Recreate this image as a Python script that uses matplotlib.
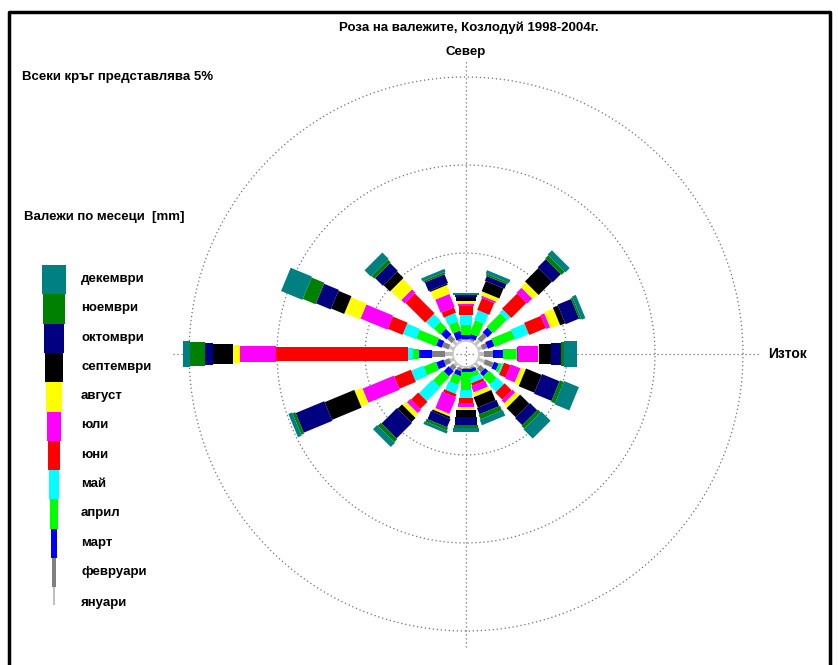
import matplotlib
matplotlib.use('Agg')
import matplotlib.pyplot as plt
from matplotlib.patches import Polygon, Circle, Rectangle
import numpy as np

plt.rcParams['font.family'] = ['Liberation Sans', 'DejaVu Sans']

# 16 compass sectors, clockwise from north
directions = ['N', 'NNE', 'NE', 'ENE', 'E', 'ESE', 'SE', 'SSE',
              'S', 'SSW', 'SW', 'WSW', 'W', 'WNW', 'NW', 'NNW']
angles = np.arange(16) * 22.5

# share of each month per sector [%]
jan = [0.03, 0.06, 0.34, 0.23, 0.28, 0.40, 0.28, 0.06, 0.03, 0.11, 0.17, 0.23, 0.45, 0.28, 0.28, 0.06]
feb = [0.06, 0.11, 0.46, 0.30, 0.52, 0.51, 0.32, 0.08, 0.06, 0.17, 0.28, 0.34, 0.74, 0.40, 0.35, 0.11]
mar = [0.25, 0.26, 0.39, 0.41, 0.56, 0.28, 0.25, 0.20, 0.19, 0.27, 0.40, 0.45, 0.74, 0.34, 0.45, 0.46]
apr = [0.57, 0.82, 1.08, 1.22, 0.74, 0.17, 0.60, 0.26, 1.03, 0.51, 0.80, 0.74, 0.34, 1.20, 0.51, 0.53]
may = [0.57, 0.57, 0.26, 0.83, 0.06, 0.09, 0.54, 0.31, 0.45, 0.52, 1.08, 0.74, 0.29, 0.79, 0.57, 0.49]
jun = [0.51, 0.74, 1.22, 1.03, 0.06, 0.40, 0.57, 0.17, 0.29, 0.18, 0.57, 1.02, 7.50, 0.91, 1.59, 0.32]
jul = [0.11, 0.11, 0.40, 0.24, 1.13, 0.59, 0.22, 0.37, 0.22, 1.01, 0.28, 1.93, 2.04, 1.65, 0.28, 0.81]
aug = [0.17, 0.23, 0.40, 0.57, 0.06, 0.29, 0.29, 0.25, 0.17, 0.13, 0.28, 0.46, 0.40, 0.96, 0.80, 0.52]
sep = [0.23, 0.62, 1.08, 0.31, 0.68, 0.96, 0.74, 0.63, 0.40, 0.11, 0.34, 1.82, 1.14, 0.80, 0.51, 0.08]
octo = [0.09, 0.29, 0.65, 0.83, 0.57, 1.08, 0.57, 0.39, 0.46, 0.51, 1.25, 1.76, 0.45, 0.91, 0.63, 0.54]
nov = [0.05, 0.11, 0.25, 0.11, 0.17, 0.23, 0.22, 0.29, 0.17, 0.17, 0.23, 0.17, 0.85, 0.79, 0.22, 0.11]
dec = [0.09, 0.20, 0.35, 0.23, 0.74, 0.91, 0.74, 0.34, 0.22, 0.17, 0.34, 0.23, 0.40, 1.31, 0.51, 0.17]

months = ['януари', 'февруари', 'март', 'април', 'май', 'юни',
          'юли', 'август', 'септември', 'октомври', 'ноември', 'декември']
colors = ['#c0c0c0', '#808080', '#0000ff', '#00ff00', '#00ffff', '#ff0000',
          '#ff00ff', '#ffff00', '#000000', '#000080', '#008000', '#008080']

data = np.array([jan, feb, mar, apr, may, jun, jul, aug, sep, octo, nov, dec])

W, H = 838, 665
cx, cy = 466, 354          # rose centre in pixels
px = 17.6                  # pixels per percent
calm = 13 / px             # radius of the calm circle
ring_step = 5
rings = [1, 2, 3]
axis_len = 293 / px


def to_data(x, y):
    return (x - cx) / px, (cy - y) / px


fig = plt.figure(figsize=(W / 100, H / 100), dpi=100)
ax = fig.add_axes([0, 0, 1, 1])
ax.set_xlim(-cx / px, (W - cx) / px)
ax.set_ylim(-(H - cy) / px, cy / px)
ax.axis('off')

# rings and cross
dot = dict(color='#707070', lw=0.9, ls=(0, (1, 2.2)))
t = np.linspace(0, 2 * np.pi, 400)
for k in rings:
    r = calm + k * ring_step
    ax.plot(r * np.cos(t), r * np.sin(t), zorder=1, **dot)
ax.plot([0, 0], [-axis_len, axis_len], zorder=1, **dot)
ax.plot([-axis_len, axis_len], [0, 0], zorder=1, **dot)

# stacked rose bars, each month a rectangle wider than the previous
for d, ang in enumerate(np.radians(angles)):
    u = np.array([np.sin(ang), np.cos(ang)])
    p = np.array([np.cos(ang), -np.sin(ang)])
    r0 = calm
    for m in range(12):
        r1 = r0 + data[m, d]
        hw = (m + 1.6) / px
        pts = [r0 * u - hw * p, r1 * u - hw * p, r1 * u + hw * p, r0 * u + hw * p]
        ax.add_patch(Polygon(pts, closed=True, facecolor=colors[m],
                             edgecolor='none', zorder=2 + m * 0.01))
        r0 = r1

# calm circle
ax.add_patch(Circle((0, 0), calm, facecolor='white', edgecolor='#c8c8c8',
                    lw=1.2, zorder=5))
ax.plot([0, 0], [-calm * 0.8, calm * 0.8], zorder=6, **dot)
ax.plot([-calm * 0.8, calm * 0.8], [0, 0], zorder=6, **dot)

fs = 9.5

# legend column
leg_x = 54
row_h = 29.3
y_top = 265
for m in range(11, -1, -1):
    i = 11 - m
    w = 2 * (m + 1) if m > 1 else (4 if m == 1 else 2)
    h = row_h if m > 0 else 18
    x0, y0 = to_data(leg_x - w / 2, y_top + i * row_h + h)
    ax.add_patch(Rectangle((x0, y0), w / px, h / px, facecolor=colors[m],
                           edgecolor='none', zorder=3))
    lx, ly = to_data(81, y_top + i * row_h + 14 if m > 0 else 603)
    ax.text(lx, ly, months[m], fontsize=fs, fontweight='bold', va='center',
            ha='left')

tx, ty = to_data(469, 28)
ax.text(tx, ty, 'Роза на валежите, Козлодуй 1998-2004г.', fontsize=fs,
        fontweight='bold', ha='center', va='center')
tx, ty = to_data(466, 52)
ax.text(tx, ty, 'Север', fontsize=fs, fontweight='bold', ha='center', va='center')
tx, ty = to_data(768, 354)
ax.text(tx, ty, 'Изток', fontsize=fs + 0.5, fontweight='bold', ha='left', va='center')
tx, ty = to_data(22, 77)
ax.text(tx, ty, 'Всеки кръг представлява 5%', fontsize=fs, fontweight='bold',
        ha='left', va='center')
tx, ty = to_data(24, 217)
ax.text(tx, ty, 'Валежи по месеци  [mm]', fontsize=fs, fontweight='bold',
        ha='left', va='center')

# frame around the plot
fx = [9 / W, 9 / W, 830 / W, 830 / W]
fy = [0, 1 - 12 / H, 1 - 12 / H, 0]
ax.plot(fx, fy, color='black', lw=2.5, transform=ax.transAxes, clip_on=False)

fig.savefig('out.png', dpi=100)
